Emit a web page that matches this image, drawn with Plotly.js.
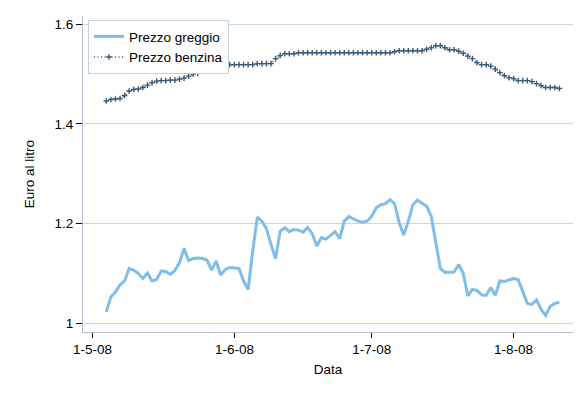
<!DOCTYPE html>
<html>
<head>
<meta charset="utf-8">
<script src="https://cdn.plot.ly/plotly-3.0.1.min.js"></script>
<style>html,body{margin:0;padding:0;background:#fff;}#chart{width:586px;height:398px;}</style>
</head>
<body>
<div id="chart"></div>
<script>
// Daily series, starting 4 May 2008
const startDate = '2008-05-04';
const seriesNames = ['Prezzo greggio', 'Prezzo benzina'];
const prezzoGreggio = [
  1.023,1.053,1.063,1.077,1.085,1.110,1.107,1.100,1.090,1.101,
  1.085,1.088,1.105,1.104,1.098,1.106,1.122,1.150,1.126,1.130,
  1.131,1.130,1.127,1.107,1.125,1.097,1.108,1.112,1.111,1.110,
  1.085,1.068,1.145,1.213,1.205,1.190,1.158,1.130,1.185,1.192,
  1.184,1.188,1.187,1.183,1.192,1.180,1.155,1.172,1.169,1.176,
  1.184,1.170,1.205,1.214,1.210,1.205,1.203,1.205,1.215,1.232,
  1.238,1.240,1.248,1.240,1.202,1.177,1.205,1.238,1.247,1.241,
  1.235,1.215,1.165,1.110,1.102,1.102,1.103,1.118,1.100,1.055,
  1.068,1.066,1.057,1.056,1.072,1.056,1.085,1.084,1.087,1.090,
  1.088,1.065,1.040,1.038,1.047,1.028,1.016,1.034,1.040,1.042
];
const prezzoBenzina = [
  1.446,1.449,1.450,1.451,1.457,1.466,1.469,1.470,1.473,1.478,
  1.483,1.486,1.487,1.487,1.488,1.488,1.490,1.492,1.496,1.500,
  1.502,1.506,1.511,1.515,1.516,1.517,1.518,1.519,1.519,1.519,
  1.519,1.519,1.519,1.521,1.521,1.521,1.521,1.531,1.537,1.541,
  1.541,1.541,1.543,1.543,1.543,1.543,1.543,1.543,1.543,1.543,
  1.543,1.543,1.543,1.543,1.543,1.543,1.543,1.543,1.543,1.543,
  1.543,1.543,1.543,1.545,1.547,1.547,1.547,1.547,1.547,1.547,
  1.550,1.553,1.557,1.557,1.553,1.549,1.549,1.546,1.542,1.536,
  1.531,1.523,1.519,1.519,1.516,1.510,1.503,1.497,1.493,1.491,
  1.487,1.487,1.487,1.485,1.481,1.477,1.473,1.473,1.473,1.471
];
const xTickVals = ['2008-05-01','2008-06-01','2008-07-01','2008-08-01'];
const xTickText = ['1-5-08','1-6-08','1-7-08','1-8-08'];
const yTickVals = [1, 1.2, 1.4, 1.6];
const yTickText = ['1','1.2','1.4','1.6'];

function buildDates(start, n) {
  const out = [];
  const d0 = new Date(start + 'T00:00:00Z');
  for (let i = 0; i < n; i++) {
    const d = new Date(d0.getTime() + i * 86400000);
    out.push(d.toISOString().slice(0, 10));
  }
  return out;
}

const font = {family: '"Liberation Sans", Arial, sans-serif', size: 13.5, color: '#000'};
const gridCol = '#c9d5de';
const axisCol = '#b3c2ce';

const traces = [
  {
    x: buildDates(startDate, prezzoGreggio.length), y: prezzoGreggio, name: seriesNames[0],
    type: 'scatter', mode: 'lines',
    line: {color: '#80bde8', width: 3}
  },
  {
    x: buildDates(startDate, prezzoBenzina.length), y: prezzoBenzina, name: seriesNames[1],
    type: 'scatter', mode: 'lines+markers',
    line: {color: '#3b5b76', width: 1.5, dash: '1px,2.5px'},
    marker: {symbol: 'cross-thin', size: 4, line: {color: '#3b5b76', width: 1.4}, color: '#3b5b76'}
  }
];

const layout = {
  width: 586, height: 398,
  margin: {l: 83, r: 13, t: 16, b: 66},
  paper_bgcolor: '#fff', plot_bgcolor: '#fff',
  font: font,
  showlegend: true,
  legend: {
    x: 0.0102, y: 0.987, xanchor: 'left', yanchor: 'top',
    bgcolor: '#fff', bordercolor: '#c3d1dc', borderwidth: 1,
    font: font, tracegroupgap: 0, itemwidth: 30
  },
  xaxis: {
    type: 'date',
    range: ['2008-04-28 22:00', '2008-08-13 23:30'],
    tickmode: 'array', tickvals: xTickVals, ticktext: xTickText,
    ticks: 'outside', ticklen: 5, tickwidth: 1, tickcolor: '#000',
    showgrid: false, zeroline: false,
    showline: true, linecolor: axisCol, linewidth: 1,
    tickfont: font,
    title: {text: 'Data', font: font, standoff: 8},
    automargin: false
  },
  yaxis: {
    range: [0.9826, 1.6166],
    tickmode: 'array', tickvals: yTickVals, ticktext: yTickText,
    ticks: 'outside', ticklen: 6, tickwidth: 1, tickcolor: '#000',
    showgrid: true, gridcolor: gridCol, gridwidth: 1,
    zeroline: false,
    showline: true, linecolor: axisCol, linewidth: 1,
    tickfont: font,
    title: {text: 'Euro al litro', font: font, standoff: 16},
    automargin: false
  }
};

Plotly.newPlot('chart', traces, layout, {staticPlot: true, displayModeBar: false});
</script>
</body>
</html>
